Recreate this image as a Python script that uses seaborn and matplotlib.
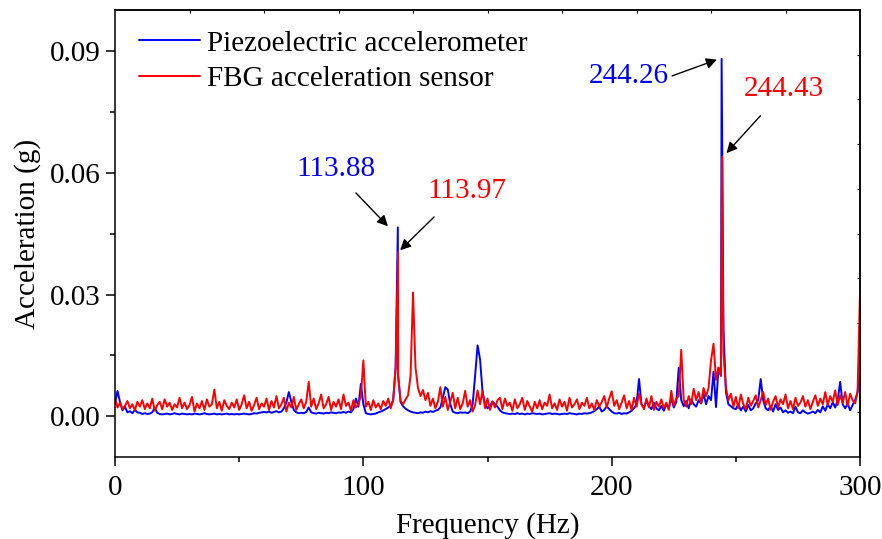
import numpy as np
import pandas as pd
import matplotlib
matplotlib.use("Agg")
import matplotlib.pyplot as plt
import seaborn as sns

# ---------------- data (1 Hz bins, accelerations in milli-g) ----------------
freq_hz = np.arange(0, 301)

piezo_mg = [
    3.0, 6.3, 3.6, 1.5, 2.4, 1.0, 1.3, 0.8, 1.6, 1.0,      # 0
    0.9, 0.6, 0.8, 0.6, 0.7, 1.0, 2.2, 0.9, 0.6, 0.5,      # 10
    0.6, 0.7, 0.5, 0.6, 0.8, 0.6, 0.5, 0.7, 0.6, 0.5,      # 20
    0.6, 0.5, 0.7, 0.6, 0.5, 0.6, 0.8, 0.6, 0.5, 0.6,      # 30
    0.7, 0.5, 0.6, 0.5, 0.6, 0.7, 0.5, 0.6, 0.5, 0.6,      # 40
    0.5, 0.6, 0.7, 0.6, 0.5, 0.6, 0.8, 0.7, 0.9, 1.0,      # 50
    1.1, 1.0, 1.2, 0.9, 1.1, 1.3, 1.0, 1.2, 2.0, 3.4,      # 60
    6.0, 3.6, 1.6, 1.0, 0.8, 0.9, 0.8, 1.1, 2.2, 1.0,      # 70
    0.8, 0.7, 0.9, 0.8, 0.7, 0.9, 0.8, 1.0, 0.9, 0.8,      # 80
    1.0, 0.9, 1.1, 0.9, 1.2, 1.0, 1.8, 4.4, 2.4, 8.0,      # 90
    3.0, 0.8, 0.6, 0.5, 0.6, 0.7, 1.0, 1.2, 1.5, 1.8,      # 100
    2.2, 2.6, 4.0, 12.0, 10.0, 3.5, 2.5, 1.9, 1.5, 1.2,    # 110
    1.0, 0.9, 0.8, 1.0, 0.9, 1.2, 1.0, 1.3, 1.1, 1.4,      # 120
    1.6, 2.2, 4.6, 7.2, 6.6, 3.0, 1.2, 0.9, 0.8, 1.0,      # 130
    0.9, 1.0, 0.8, 1.2, 3.0, 10.0, 17.5, 14.0, 6.0, 3.0,   # 140
    2.0, 2.6, 3.7, 3.0, 2.4, 1.5, 1.0, 0.8, 0.7, 0.6,      # 150
    0.7, 0.6, 0.8, 0.6, 0.7, 0.5, 0.7, 0.6, 0.8, 0.7,      # 160
    0.6, 0.7, 0.5, 0.6, 0.7, 0.8, 0.6, 0.7, 0.6, 0.5,      # 170
    0.6, 0.7, 0.6, 0.8, 0.7, 0.6, 0.5, 0.7, 0.6, 0.8,      # 180
    0.7, 0.8, 1.0, 1.3, 1.8, 2.4, 1.2, 1.6, 2.5, 1.8,      # 190
    1.2, 0.8, 0.7, 0.9, 0.6, 0.8, 0.7, 1.0, 1.4, 2.0,      # 200
    3.0, 9.2, 3.0, 2.2, 3.9, 2.5, 1.8, 3.4, 2.0, 1.5,      # 210
    2.6, 1.4, 3.0, 2.0, 4.5, 2.2, 3.5, 12.0, 4.0, 2.5,     # 220
    3.8, 2.0, 4.2, 3.0, 2.4, 4.0, 3.2, 5.5, 3.0, 5.0,      # 230
    4.0, 11.0, 2.3, 12.0, 10.0, 21.7, 6.0, 3.0, 2.5, 2.0,  # 240
    1.8, 3.0, 1.5, 2.4, 1.2, 2.8, 1.5, 2.0, 3.2, 4.0,      # 250
    9.2, 4.0, 2.0, 1.5, 2.6, 1.2, 3.0, 1.6, 2.2, 1.0,      # 260
    1.5, 0.9, 1.2, 0.8, 2.4, 1.0, 0.8, 1.5, 1.0, 0.7,      # 270
    0.9, 1.2, 0.8, 1.6, 1.0, 2.5, 1.4, 3.0, 2.0, 3.5,      # 280
    2.2, 4.0, 8.5, 3.0, 2.0, 3.2, 1.5, 2.8, 4.0, 6.0,      # 290
    11.0,                                                  # 300
]

fbg_mg = [
    4.6, 2.2, 3.4, 1.8, 2.6, 3.8, 2.0, 3.0, 1.5, 3.6,      # 0
    2.4, 4.0, 1.8, 3.2, 2.0, 4.4, 1.4, 2.8, 3.6, 1.8,      # 10
    4.2, 2.4, 3.4, 1.6, 3.0, 2.2, 4.6, 2.0, 3.4, 1.8,      # 20
    2.8, 4.8, 1.2, 3.2, 2.0, 3.8, 1.6, 4.2, 2.4, 3.0,      # 30
    6.6, 2.0, 3.6, 1.4, 4.0, 2.6, 1.8, 3.4, 2.2, 4.2,      # 40
    1.6, 3.0, 5.2, 2.0, 3.6, 1.4, 2.8, 4.6, 1.8, 3.2,      # 50
    2.4, 4.4, 1.6, 3.8, 2.2, 5.0, 2.0, 3.0, 4.6, 1.2,      # 60
    3.4, 2.2, 4.8, 1.6, 3.0, 4.2, 2.0, 3.6, 8.5, 2.4,      # 70
    4.4, 1.8, 3.2, 5.4, 2.0, 3.0, 4.8, 1.6, 3.6, 2.4,      # 80
    4.2, 1.8, 5.4, 2.6, 3.4, 1.4, 4.0, 2.2, 3.0, 5.0,      # 90
    13.8, 2.4, 3.6, 1.6, 4.0, 2.2, 3.2, 1.8, 3.8, 2.6,     # 100
    4.4, 2.0, 4.0, 12.0, 10.0, 3.8, 3.0, 4.2, 5.2, 10.0,   # 110
    30.5, 12.0, 7.0, 5.0, 6.5, 4.0, 5.8, 2.6, 4.4, 2.0,    # 120
    3.6, 7.2, 2.4, 4.8, 1.6, 3.6, 5.8, 2.0, 4.6, 1.8,      # 130
    3.2, 6.3, 2.4, 4.0, 1.2, 2.8, 6.4, 3.0, 6.3, 2.0,      # 140
    4.4, 1.6, 3.6, 2.2, 4.0, 4.6, 1.8, 4.4, 2.6, 3.4,      # 150
    1.4, 4.2, 2.0, 3.0, 4.6, 1.6, 3.8, 2.4, 1.2, 3.6,      # 160
    2.0, 4.0, 1.8, 3.4, 2.6, 5.4, 2.0, 3.2, 1.6, 4.2,      # 170
    2.4, 3.6, 1.4, 4.6, 2.2, 3.0, 4.2, 1.8, 3.4, 2.6,      # 180
    4.6, 2.0, 3.2, 1.6, 4.0, 2.4, 3.6, 5.0, 2.2, 4.4,      # 190
    6.2, 2.6, 4.0, 1.8, 3.4, 5.2, 2.0, 3.8, 1.6, 4.6,      # 200
    2.4, 5.6, 3.0, 1.8, 4.4, 2.2, 5.0, 1.6, 3.6, 2.4,      # 210
    4.2, 2.0, 3.4, 1.6, 6.3, 2.6, 4.4, 5.0, 16.4, 4.0,     # 220
    2.4, 5.0, 3.0, 6.8, 4.0, 6.0, 3.2, 7.0, 5.0, 7.0,      # 230
    13.8, 17.9, 9.0, 12.0, 10.0, 15.5, 7.0, 4.0, 5.6, 2.4, # 240
    4.8, 2.0, 5.4, 3.0, 1.8, 4.6, 2.6, 3.8, 5.2, 2.2,      # 250
    4.0, 6.0, 2.8, 4.4, 1.6, 3.6, 5.0, 2.2, 4.2, 3.0,      # 260
    5.4, 2.0, 3.8, 1.8, 4.6, 2.6, 3.4, 5.0, 2.4, 4.0,      # 270
    1.8, 3.6, 5.2, 2.6, 4.4, 3.0, 6.0, 2.8, 5.0, 3.6,      # 280
    6.4, 2.8, 5.2, 3.4, 6.0, 2.6, 5.6, 4.0, 3.2, 6.0,      # 290
    31.0,                                                  # 300
]

# resonance peaks (Hz, milli-g)
piezo_peak_hz = [113.88, 244.26]
piezo_peak_mg = [46.5, 88.0]
fbg_peak_hz = [113.97, 244.43]
fbg_peak_mg = [40.4, 63.9]

series_names = ["Piezoelectric accelerometer", "FBG acceleration sensor"]
series_colors = ["#0000FF", "#FF0000"]


def build(hz, mg, peak_hz, peak_mg, name):
    df = pd.DataFrame({
        "Frequency": np.concatenate([np.asarray(hz, float), np.asarray(peak_hz, float)]),
        "Acceleration": np.concatenate([np.asarray(mg, float), np.asarray(peak_mg, float)]) / 1000.0,
        "Sensor": name,
    })
    return df.sort_values("Frequency")


data = pd.concat([
    build(freq_hz, piezo_mg, piezo_peak_hz, piezo_peak_mg, series_names[0]),
    build(freq_hz, fbg_mg, fbg_peak_hz, fbg_peak_mg, series_names[1]),
], ignore_index=True)

# ---------------- style ----------------
sns.set_style("ticks")
plt.rcParams["font.family"] = ["Liberation Serif", "DejaVu Serif"]
plt.rcParams["text.color"] = "black"
plt.rcParams["axes.labelcolor"] = "black"
plt.rcParams["xtick.color"] = "black"
plt.rcParams["ytick.color"] = "black"
plt.rcParams["axes.edgecolor"] = "black"
FS = 21

fig = plt.figure(figsize=(8.82, 5.39), dpi=100)
ax = fig.add_axes([0.1304, 0.152, 0.8447, 0.8293])

sns.lineplot(data=data, x="Frequency", y="Acceleration", hue="Sensor",
             hue_order=series_names, palette=dict(zip(series_names, series_colors)),
             estimator=None, sort=False, linewidth=1.4, ax=ax)

ax.set_xlim(0, 300)
ax.set_ylim(-0.01, 0.10)
ax.set_xticks([0, 100, 200, 300])
ax.set_xticks([50, 150, 250], minor=True)
ax.set_yticks([0.0, 0.03, 0.06, 0.09])
ax.set_yticks([0.015, 0.045, 0.075], minor=True)
ax.set_yticklabels(["0.00", "0.03", "0.06", "0.09"])
ax.tick_params(which="major", direction="out", length=6.5, width=1.1,
               labelsize=FS, pad=4, colors="black")
ax.tick_params(axis="x", which="major", pad=6.5)
ax.tick_params(which="minor", direction="out", length=3.5, width=1.1)
for s in ax.spines.values():
    s.set_visible(True)
    s.set_linewidth(1.1)
    s.set_color("black")

# small inward ticks on top and right (10 divisions)
top = ax.secondary_xaxis("top")
top.set_xticks(np.linspace(0, 300, 11)[1:-1])
top.tick_params(direction="in", length=2.5, width=0.8, labeltop=False)
top.spines["top"].set_linewidth(1.1)
right = ax.secondary_yaxis("right")
right.set_yticks(np.linspace(-0.01, 0.10, 11)[1:-1])
right.tick_params(direction="in", length=2.5, width=0.8, labelright=False)
right.spines["right"].set_linewidth(1.1)

ax.set_xlabel("Frequency (Hz)", fontsize=FS, labelpad=8, color="black")
ax.set_ylabel("Acceleration (g)", fontsize=FS, labelpad=6, color="black")

leg = ax.legend(loc="upper left", bbox_to_anchor=(0.032, 0.955), frameon=False,
                fontsize=FS, handlelength=2.1, handletextpad=0.25,
                borderpad=0, borderaxespad=0, labelspacing=0.32)
for line in leg.get_lines():
    line.set_linewidth(1.4)
for t in leg.get_texts():
    t.set_color("black")

# peak annotations
ann_text = [("113.88", 88.8, 0.0610, "#0000FF"), ("113.97", 141.9, 0.0554, "#FF0000"),
            ("244.26", 206.8, 0.0838, "#0000FF"), ("244.43", 269.2, 0.0805, "#FF0000")]
for txt, x, y, c in ann_text:
    ax.text(x, y, txt, color=c, fontsize=FS, ha="center", va="center")

arrows = [((97.0, 0.0550), (109.9, 0.0468)), ((128.5, 0.0491), (114.8, 0.0409)),
          ((224.3, 0.0838), (242.4, 0.0878)), ((259.9, 0.0740), (246.2, 0.0648))]
for start, end in arrows:
    ax.annotate("", xy=end, xytext=start,
                arrowprops=dict(arrowstyle="-|>", color="black", lw=1.0,
                                mutation_scale=16, shrinkA=0, shrinkB=0))

fig.savefig("out.png", dpi=100)
